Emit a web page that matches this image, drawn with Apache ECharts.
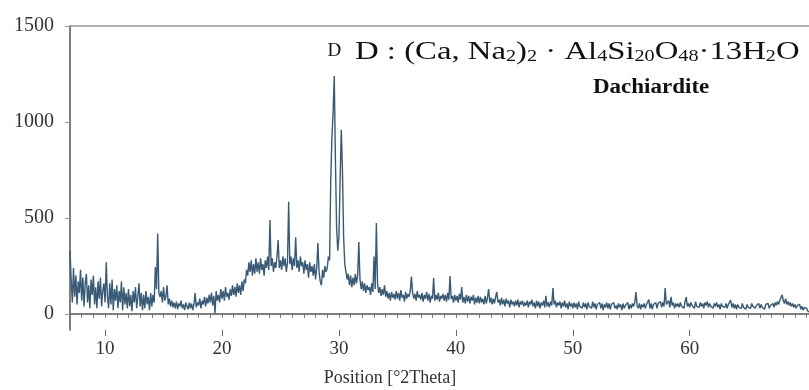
<!DOCTYPE html>
<html><head><meta charset="utf-8">
<script src="https://cdn.jsdelivr.net/npm/echarts@6/dist/echarts.min.js"></script>
<style>html,body{margin:0;padding:0;background:#fff}#c{width:809px;height:390px}</style>
</head><body><div id="c"></div>
<script>
// Sampling grid of the scan (degrees 2-theta)
const thetaStart = 7.0;
const thetaStep = 0.1;
const counts = [
/* 7 */ 330,180,60,240,90,200,50,170,110,230,
/* 8 */ 70,190,40,160,210,60,150,30,180,100,
/* 9 */ 200,50,140,30,170,80,190,40,120,160,
/*10 */ 60,270,90,30,160,50,180,20,130,70,
/*11 */ 150,30,120,60,170,20,140,50,110,30,
/*12 */ 130,40,100,15,120,60,140,30,90,160,
/*13 */ 40,110,20,100,30,120,50,90,20,110,
/*14 */ 40,100,60,245,130,420,110,90,120,60,
/*15 */ 140,70,90,150,50,80,40,70,35,60,
/*16 */ 30,65,25,55,40,70,30,50,20,60,
/*17 */ 40,25,60,30,55,20,50,110,35,60,
/*18 */ 45,80,30,70,50,90,40,85,55,100,
/*19 */ 60,110,45,95,5,120,70,100,60,130,
/*20 */ 80,120,70,140,90,110,75,130,95,150,
/*21 */ 100,140,90,160,110,150,100,170,120,180,
/*22 */ 160,230,200,270,220,280,200,260,210,290,
/*23 */ 220,270,210,290,230,260,200,280,240,300,
/*24 */ 230,490,250,290,220,270,240,300,385,240,
/*25 */ 280,230,300,250,290,220,270,585,260,300,
/*26 */ 230,290,250,400,240,280,220,300,250,270,
/*27 */ 210,280,230,260,190,270,220,250,200,260,
/*28 */ 180,240,370,220,170,150,230,190,250,220,
/*29 */ 240,300,280,700,920,1050,1240,800,450,330,
/*30 */ 400,700,960,750,400,260,220,180,210,150,
/*31 */ 200,140,190,150,210,160,200,375,180,130,
/*32 */ 170,120,160,110,150,125,140,100,160,115,
/*33 */ 300,130,474,160,110,140,95,130,100,150,
/*34 */ 90,120,80,110,70,115,85,105,75,120,
/*35 */ 80,110,70,125,85,100,65,115,80,105,
/*36 */ 90,120,195,110,80,105,70,120,85,100,
/*37 */ 75,110,65,100,80,115,70,105,60,95,
/*38 */ 80,187,70,100,75,110,65,95,80,105,
/*39 */ 70,100,65,110,75,198,80,95,60,100,
/*40 */ 70,95,60,105,75,140,60,90,55,100,
/*41 */ 65,95,55,90,70,100,50,85,60,95,
/*42 */ 55,90,60,80,50,95,55,85,130,60,
/*43 */ 85,50,80,55,90,115,60,75,45,85,
/*44 */ 50,75,40,80,55,70,35,75,50,65,
/*45 */ 40,70,45,75,35,65,50,70,40,60,
/*46 */ 45,70,35,65,50,75,40,60,30,70,
/*47 */ 40,65,30,60,45,70,35,95,40,60,
/*48 */ 35,65,45,135,50,70,35,60,45,65,
/*49 */ 30,60,40,70,35,55,25,65,40,55,
/*50 */ 30,60,35,55,25,65,40,50,30,60,
/*51 */ 35,55,25,60,40,50,30,65,35,55,
/*52 */ 25,50,40,60,30,55,20,50,35,60,
/*53 */ 30,55,25,50,40,60,30,45,25,55,
/*54 */ 35,50,20,55,30,45,35,60,25,50,
/*55 */ 30,55,40,60,115,45,30,55,25,50,
/*56 */ 35,55,30,50,40,75,30,55,25,50,
/*57 */ 40,60,30,55,45,65,35,60,40,135,
/*58 */ 50,40,70,35,90,45,60,30,55,40,
/*59 */ 55,35,60,40,50,30,65,88,40,55,
/*60 */ 35,60,45,55,30,65,40,50,35,60,
/*61 */ 40,55,30,60,45,65,35,55,40,50,
/*62 */ 30,55,40,60,35,50,25,55,40,50,
/*63 */ 35,55,30,50,40,73,35,55,30,50,
/*64 */ 25,50,35,45,30,55,35,45,25,50,
/*65 */ 35,45,30,55,40,50,30,45,35,55,
/*66 */ 30,50,35,45,25,50,40,55,30,45,
/*67 */ 40,55,35,60,45,65,50,70,60,100,
/*68 */ 70,55,80,50,65,45,60,40,55,35,
/*69 */ 50,30,45,35,50,25,40,20,35,25,
/*70 */ 30,15,25,10,20,5,10
];
const xTickLabels = [10, 20, 30, 40, 50, 60];
const yTickLabels = [0, 500, 1000, 1500];
const phaseMarker = { theta: 29.6, label: 'D' };
const xTitle = 'Position [°2Theta]';
const phaseName = 'Dachiardite';

const xMin = 7, xMax = 70.2, yMin = -83, yMax = 1500;
const minorTicks = [];
for (let t = 7; t <= 70; t++) minorTicks.push(t);

const seriesData = counts.map((c, i) => [Math.round((thetaStart + i * thetaStep) * 10) / 10, c]);

const serif = 'Liberation Serif';
const chart = echarts.init(document.getElementById('c'), null, { renderer: 'canvas' });
chart.setOption({
  animation: false,
  grid: { left: 70, right: 0, top: 26, bottom: 60 },
  xAxis: [
    { type: 'value', min: xMin, max: xMax, position: 'bottom',
      axisLine: { show: true, lineStyle: { color: '#555', width: 1.5 } },
      axisTick: { show: true, customValues: minorTicks, length: 4, lineStyle: { color: '#777' } },
      axisLabel: { show: false }, splitLine: { show: false } },
    { type: 'value', min: xMin, max: xMax, position: 'bottom',
      axisLine: { show: false },
      axisTick: { show: true, customValues: xTickLabels, length: 6, lineStyle: { color: '#666' } },
      axisLabel: { show: true, customValues: xTickLabels, formatter: v => String(v),
        fontFamily: serif, fontSize: 19, color: '#333', margin: 10 },
      splitLine: { show: false } },
    { type: 'value', min: xMin, max: xMax, position: 'top',
      axisLine: { show: true, lineStyle: { color: '#999', width: 1.5 } },
      axisTick: { show: false }, axisLabel: { show: false }, splitLine: { show: false } }
  ],
  yAxis: [{
    type: 'value', min: yMin, max: yMax,
    axisLine: { show: true, lineStyle: { color: '#555', width: 1.5 } },
    axisTick: { show: true, customValues: yTickLabels, length: 5, lineStyle: { color: '#999' } },
    axisLabel: { show: true, customValues: yTickLabels, formatter: v => String(v),
      fontFamily: serif, fontSize: 20, color: '#333', margin: 16, padding: [0, 0, 5, 0] },
    splitLine: { show: false }
  }],
  series: [{
    type: 'line', xAxisIndex: 0, yAxisIndex: 0,
    data: seriesData, showSymbol: false, symbol: 'none', sampling: null,
    lineStyle: { color: '#375a77', width: 1.4 },
    markPoint: {
      symbol: 'circle', symbolSize: 0,
      label: { show: true, formatter: phaseMarker.label, fontFamily: serif, fontSize: 19, color: '#111', position: 'inside' },
      data: [{ coord: [phaseMarker.theta, 1370] }]
    }
  }],
  graphic: [
    { type: 'text', x: 355, y: 37, scaleX: 1.26,
      style: {
        text: '{n|D : (Ca, Na}{s|2}{n|)}{s|2}{n| · Al}{s|4}{n|Si}{s|20}{n|O}{s|48}{n|·13H}{s|2}{n|O}',
        rich: {
          n: { fontFamily: serif, fontSize: 26, fill: '#111', verticalAlign: 'bottom', lineHeight: 28 },
          s: { fontFamily: serif, fontSize: 16, fill: '#111', verticalAlign: 'bottom', lineHeight: 20 }
        }
      } },
    { type: 'text', x: 593, y: 78, scaleX: 1.15,
      style: { text: phaseName, fontFamily: serif, fontWeight: 'bold', fontSize: 20, fill: '#111' } },
    { type: 'text', x: 390, y: 369,
      style: { text: xTitle, fontFamily: serif, fontSize: 18, fill: '#333', textAlign: 'center' } }
  ]
});
</script>
</body></html>
